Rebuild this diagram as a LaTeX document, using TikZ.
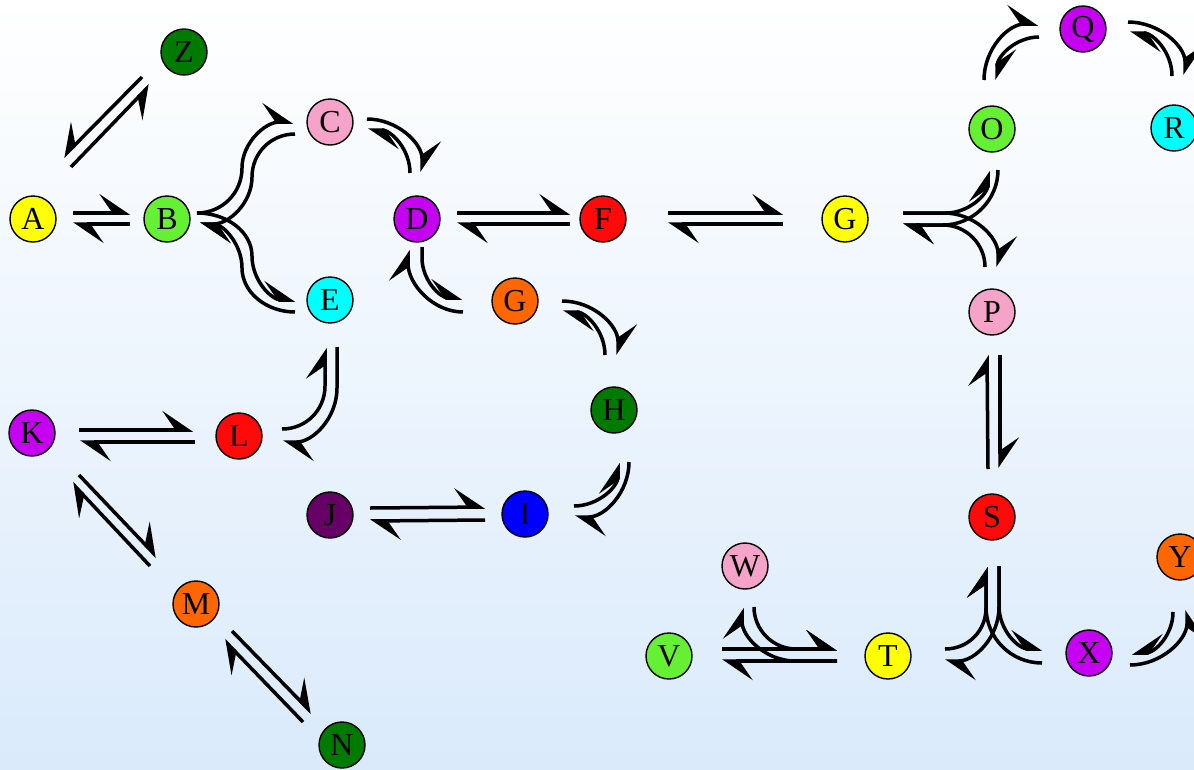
\documentclass[tikz,border=0pt]{standalone}
\usepackage{fontspec}
\setmainfont{Liberation Serif}
\usetikzlibrary{arrows.meta,calc}

\definecolor{cyel}{RGB}{255,255,0}
\definecolor{clgr}{RGB}{102,240,51}
\definecolor{cpnk}{RGB}{245,163,200}
\definecolor{cpur}{RGB}{198,0,240}
\definecolor{ccyn}{RGB}{0,255,255}
\definecolor{cred}{RGB}{255,10,10}
\definecolor{corg}{RGB}{255,102,0}
\definecolor{cdgr}{RGB}{0,122,0}
\definecolor{cblu}{RGB}{0,0,255}
\definecolor{cdpu}{RGB}{102,0,102}
\definecolor{bgbot}{RGB}{218,234,251}

\tikzset{
  sp/.style={circle, draw=black, line width=1.4pt, minimum size=46pt, inner sep=0pt,
    font=\fontsize{32}{32}\selectfont},
  hl/.style={line width=3.5pt, -{Stealth[harpoon, length=28pt, width=38pt, inset=13pt]}},
  hr/.style={line width=3.5pt, -{Stealth[harpoon, swap, length=28pt, width=38pt, inset=13pt]}},
}

\begin{document}
\begin{tikzpicture}[x=1pt, y=-1pt]
% page and background
\useasboundingbox (0,0) rectangle (1194,769);
\shade[top color=white, bottom color=bgbot] (0,0) rectangle (1194,769);

% species
\node[sp, fill=cdgr] (Z)  at (184,52)  {Z};
\node[sp, fill=cyel] (A)  at (33,219)  {A};
\node[sp, fill=clgr] (B)  at (167,219) {B};
\node[sp, fill=cpnk] (C)  at (330,122) {C};
\node[sp, fill=cpur] (D)  at (417,219) {D};
\node[sp, fill=ccyn] (E)  at (330,300) {E};
\node[sp, fill=cred] (F)  at (603,219) {F};
\node[sp, fill=cyel] (G1) at (845,219) {G};
\node[sp, fill=corg] (G2) at (515,301) {G};
\node[sp, fill=cdgr] (H)  at (614,410) {H};
\node[sp, fill=cblu] (I)  at (525,514) {I};
\node[sp, fill=cdpu] (J)  at (330,515) {J};
\node[sp, fill=cpur] (K)  at (32,433)  {K};
\node[sp, fill=cred] (L)  at (239,436) {L};
\node[sp, fill=corg] (M)  at (196,604) {M};
\node[sp, fill=cdgr] (N)  at (342,745) {N};
\node[sp, fill=clgr] (O)  at (992,129) {O};
\node[sp, fill=cpnk] (P)  at (992,312) {P};
\node[sp, fill=cpur] (Q)  at (1083,29) {Q};
\node[sp, fill=ccyn] (R)  at (1174,128) {R};
\node[sp, fill=cred] (S)  at (992,517) {S};
\node[sp, fill=cyel] (T)  at (888,656) {T};
\node[sp, fill=clgr] (V)  at (669,656) {V};
\node[sp, fill=cpnk] (W)  at (745,566) {W};
\node[sp, fill=cpur] (X)  at (1089,653) {X};
\node[sp, fill=corg] (Y)  at (1180,557) {Y};

% Z <=> A
\draw[hr] ($(Z)+(-42,25)$) -- ($(A)+(30,-62)$);
\draw[hr] ($(A)+(38,-52)$) -- ($(Z)+(-34,33)$);

% A <=> B
\draw[hl] ($(A)+(40,-6)$) -- ($(B)+(-37,-6)$);
\draw[hl] ($(B)+(-37,5)$) -- ($(A)+(40,5)$);

% B <=> C and B <=> E (split)
\draw[hl] ($(B)+(30,-6)$) .. controls +(25,0) and +(0,25) .. ($(C)+(-88,46)$)
  .. controls +(0,-25) and +(-28,0) .. ($(C)+(-37,0)$);
\draw[hl] ($(C)+(-35,12)$) .. controls +(-24,0) and +(0,-24) .. ($(C)+(-78,55)$)
  .. controls +(0,26) and +(29,0) .. ($(B)+(33,5)$);
\draw[hl] ($(B)+(30,-6)$) .. controls +(30,0) and +(0,-24) .. ($(E)+(-78,-44)$)
  .. controls +(0,24) and +(-24,0) .. ($(E)+(-35,0)$);
\draw[hl] ($(E)+(-35,12)$) .. controls +(-29,0) and +(0,24) .. ($(E)+(-88,-32)$)
  .. controls +(0,-24) and +(23,0) .. ($(B)+(33,5)$);

% C <=> D
\draw[hl] ($(C)+(37,-3)$) .. controls +(30,0) and +(0,-29) .. ($(D)+(5,-47)$);
\draw[hl] ($(D)+(-7,-46)$) .. controls +(0,-24) and +(23,0) .. ($(C)+(38,8)$);

% D <=> F <=> G
\draw[hl] ($(D)+(40,-6)$) -- ($(F)+(-33,-6)$);
\draw[hl] ($(F)+(-33,5)$) -- ($(D)+(40,5)$);
\draw[hl] ($(F)+(65,-6)$) -- ($(G1)+(-62,-6)$);
\draw[hl] ($(G1)+(-62,5)$) -- ($(F)+(65,5)$);

% D <=> G <=> H <=> I <=> J
\draw[hl] ($(D)+(5,28)$) -- ($(D)+(5,39)$) .. controls +(0,22) and +(-22,0) .. ($(G2)+(-53,-3)$);
\draw[hl] ($(G2)+(-52,11)$) .. controls +(-30,0) and +(0,34) .. ($(D)+(-9,31)$);
\draw[hl] ($(G2)+(47,0)$) .. controls +(31,0) and +(0,-30) .. ($(H)+(4,-55)$);
\draw[hl] ($(H)+(-9,-55)$) .. controls +(0,-24) and +(23,0) .. ($(G2)+(48,11)$);
\draw[hl] ($(H)+(15,52)$) .. controls +(0,30) and +(30,0) .. ($(I)+(50,3)$);
\draw[hl] ($(I)+(49,-8)$) .. controls +(24,0) and +(0,24) .. ($(H)+(4,53)$);
\draw[hl] ($(J)+(40,-7)$) -- ($(I)+(-40,-7)$);
\draw[hl] ($(I)+(-40,6)$) -- ($(J)+(40,6)$);

% K <=> L <=> E
\draw[hl] ($(K)+(47,-3)$) -- ($(L)+(-46,-6)$);
\draw[hl] ($(L)+(-44,6)$) -- ($(K)+(48,9)$);
\draw[hl] ($(L)+(43,-7)$) .. controls +(24,0) and +(0,24) .. ($(E)+(-5,86)$) -- ($(E)+(-5,48)$);
\draw[hl] ($(E)+(7,47)$) -- ($(E)+(7,88)$) .. controls +(0,30) and +(30,0) .. ($(L)+(44,6)$);

% K <=> M <=> N
\draw[hl] ($(K)+(47,42)$) -- ($(M)+(-39,-47)$);
\draw[hl] ($(M)+(-46,-38)$) -- ($(K)+(40,50)$);
\draw[hl] ($(M)+(36,27)$) -- ($(N)+(-30,-32)$);
\draw[hl] ($(N)+(-39,-23)$) -- ($(M)+(28,36)$);

% G <=> O and G <=> P (split)
\draw[hl] ($(G1)+(58,-6)$) -- ($(G1)+(101,-6)$) .. controls +(23,0) and +(0,23) .. ($(O)+(-4,42)$);
\draw[hl] ($(O)+(6,41)$) .. controls +(0,30) and +(30,0) .. ($(G1)+(98,6)$) -- ($(G1)+(58,6)$);
\draw[hl] ($(G1)+(58,-6)$) -- ($(G1)+(99,-6)$) .. controls +(30,0) and +(0,-30) .. ($(P)+(6,-45)$);
\draw[hl] ($(P)+(-7,-45)$) .. controls +(0,-23) and +(23,0) .. ($(G1)+(98,6)$) -- ($(G1)+(58,6)$);

% O <=> Q <=> R
\draw[hl] ($(O)+(-8,-49)$) .. controls +(0,-31) and +(-30,0) .. ($(Q)+(-45,-5)$);
\draw[hl] ($(Q)+(-44,8)$) .. controls +(-23,0) and +(0,-24) .. ($(O)+(5,-49)$);
\draw[hl] ($(Q)+(45,-7)$) .. controls +(31,0) and +(0,-29) .. ($(R)+(11,-53)$);
\draw[hl] ($(R)+(-2,-52)$) .. controls +(0,-24) and +(23,0) .. ($(Q)+(47,4)$);

% P <=> S
\draw[hl] ($(P)+(8,43)$) -- ($(S)+(8,-49)$);
\draw[hl] ($(S)+(-4,-48)$) -- ($(P)+(-5,43)$);

% S <=> T and S <=> X (split)
\draw[hl] ($(S)+(7,49)$) -- ($(S)+(7,90)$) .. controls +(0,30) and +(30,0) .. ($(T)+(57,5)$);
\draw[hl] ($(T)+(57,-7)$) .. controls +(23,0) and +(0,23) .. ($(S)+(-6,91)$) -- ($(S)+(-6,50)$);
\draw[hl] ($(S)+(7,49)$) -- ($(S)+(7,89)$) .. controls +(0,24) and +(-24,0) .. ($(X)+(-47,-4)$);
\draw[hl] ($(X)+(-47,10)$) .. controls +(-31,0) and +(0,31) .. ($(S)+(-6,90)$) -- ($(S)+(-6,50)$);

% V <=> T and W <=> T
\draw[hl] ($(V)+(53,-7)$) -- ($(T)+(-51,-7)$);
\draw[hl] ($(T)+(-51,5)$) -- ($(V)+(53,5)$);
\draw[hl] ($(W)+(9,41)$) .. controls +(0,23) and +(-23,0) .. ($(T)+(-92,-7)$) -- ($(T)+(-51,-7)$);
\draw[hl] ($(T)+(-51,5)$) -- ($(T)+(-93,5)$) .. controls +(-29,0) and +(0,29) .. ($(W)+(-3,42)$);

% X <=> Y
\draw[hr] ($(X)+(41,12)$) .. controls +(31,0) and +(0,30) .. ($(Y)+(7,53)$);
\draw[hr] ($(Y)+(-7,55)$) .. controls +(0,23) and +(23,0) .. ($(X)+(43,0)$);
\end{tikzpicture}
\end{document}
